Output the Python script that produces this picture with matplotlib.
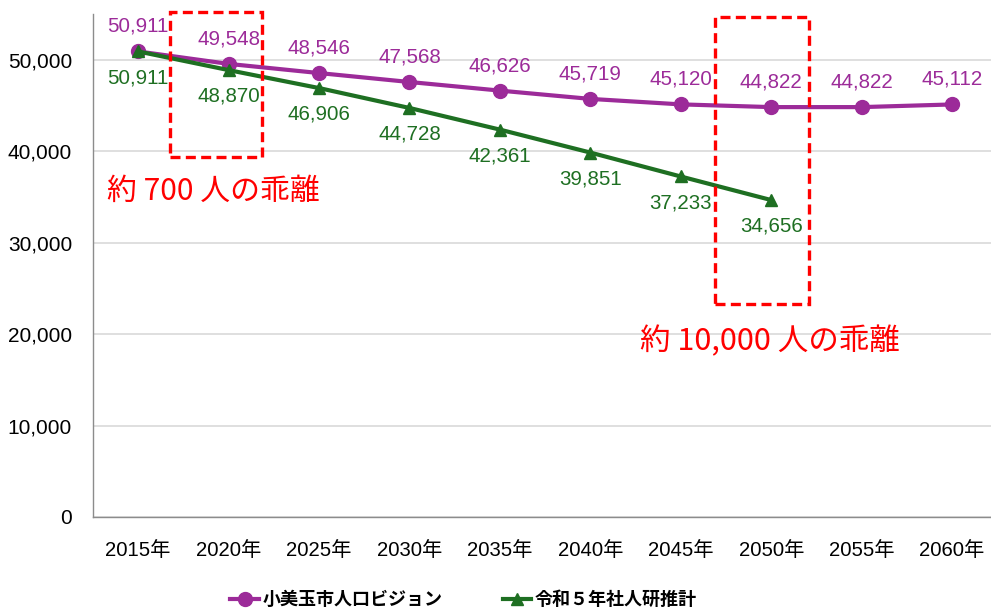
import matplotlib
matplotlib.use('Agg')
import matplotlib.pyplot as plt
from matplotlib.patches import Rectangle

plt.rcParams['font.family'] = ['Liberation Sans', 'Noto Sans CJK JP', 'DejaVu Sans']

# 人口の推移（人）
years = ['2015年', '2020年', '2025年', '2030年', '2035年',
         '2040年', '2045年', '2050年', '2055年', '2060年']
vision = [50911, 49548, 48546, 47568, 46626, 45719, 45120, 44822, 44822, 45112]
ipss = [50911, 48870, 46906, 44728, 42361, 39851, 37233, 34656]
vision_name = '小美玉市人口ビジョン'
ipss_name = '令和５年社人研推計'

purple = '#9c2b99'
green = '#1e6f22'
red = '#ff0000'

fig = plt.figure(figsize=(9.91, 6.1), dpi=100)
ax = fig.add_axes([0.0937, 0.1525, 0.9063, 0.8245])

x_v = list(range(len(vision)))
x_i = list(range(len(ipss)))
ax.plot(x_v, vision, color=purple, lw=3, marker='o', ms=10,
        label=vision_name, zorder=4)
ax.plot(x_i, ipss, color=green, lw=3, marker='^', ms=8,
        label=ipss_name, zorder=4)

for x, v in zip(x_v, vision):
    ax.annotate(f'{v:,}', (x, v), xytext=(0, 18), textcoords='offset points',
                ha='center', va='center', fontsize=14.8, color=purple)
for x, v in zip(x_i, ipss):
    ax.annotate(f'{v:,}', (x, v), xytext=(0, -19), textcoords='offset points',
                ha='center', va='center', fontsize=14.8, color=green)

# 乖離の囲み
ax.add_patch(Rectangle((0.355, 39400), 1.015, 15800, fill=False,
                       ec=red, lw=2.4, ls=(0, (3, 1.6)), zorder=5, clip_on=False))
ax.add_patch(Rectangle((6.38, 23300), 1.04, 31400, fill=False,
                       ec=red, lw=2.4, ls=(0, (3, 1.6)), zorder=5, clip_on=False))
ax.text(0.83, 35600, '約 700 人の乖離', color=red, fontsize=21.5,
        family=['Noto Sans CJK JP'], ha='center', va='center')
ax.text(6.99, 19200, '約 10,000 人の乖離', color=red, fontsize=22,
        family=['Noto Sans CJK JP'], ha='center', va='center')

ax.set_xlim(-0.5, 9.43)
ax.set_ylim(0, 55000)
ax.set_yticks(range(0, 50001, 10000))
ax.set_yticklabels([f'{t:,}' for t in range(0, 50001, 10000)])
ax.set_xticks(x_v)
ax.set_xticklabels(years)
ax.tick_params(axis='y', length=0, pad=15, labelsize=15)
ax.tick_params(axis='x', length=0, pad=17, labelsize=14.6)
ax.yaxis.grid(True, color='#d9d9d9', lw=1.2)
ax.set_axisbelow(True)
for s in ['top', 'right']:
    ax.spines[s].set_visible(False)
for s in ['left', 'bottom']:
    ax.spines[s].set_color('#8c8c8c')
    ax.spines[s].set_linewidth(1)

leg = fig.legend(loc='center', bbox_to_anchor=(0.468, 0.016), ncol=2,
                 frameon=False, fontsize=13, columnspacing=3.3,
                 handlelength=1.6, handletextpad=0.2)
for t in leg.get_texts():
    t.set_fontweight('bold')

fig.savefig('out.png', dpi=100)
